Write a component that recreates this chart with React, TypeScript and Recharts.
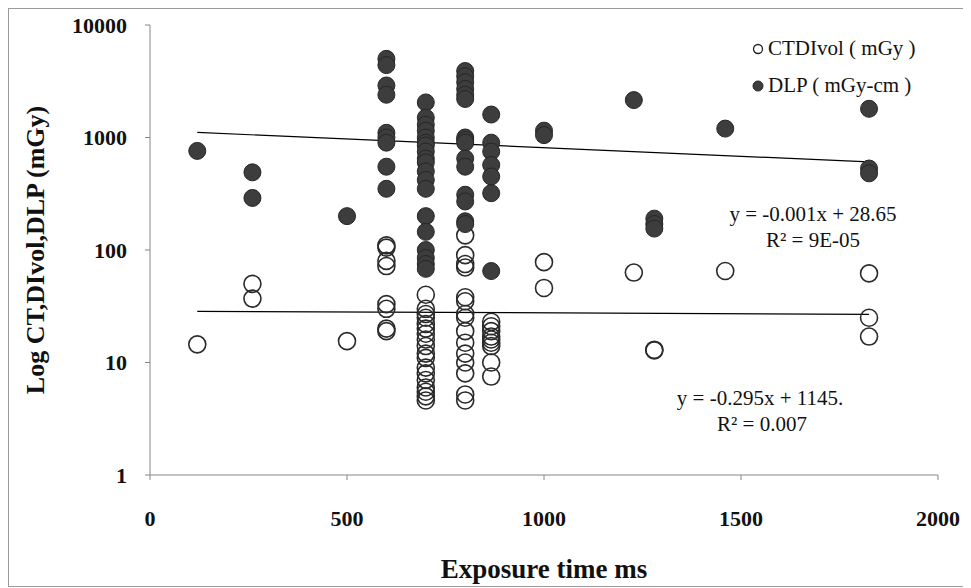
import { ScatterChart, Scatter, XAxis, YAxis, ReferenceLine } from 'recharts';

// exposure time (ms) -> DLP values (mGy-cm)
const DLP_POINTS: Array<[number, number[]]> = [
  [120, [760]],
  [260, [490, 290]],
  [500, [200]],
  [600, [5000, 4400, 2900, 2400, 1100, 1000, 900, 550, 350]],
  [700, [2050, 1500, 1300, 1150, 1000, 900, 850, 750, 650, 600, 500, 420, 350, 200, 145, 100, 85, 75, 68]],
  [800, [3900, 3500, 3100, 2700, 2400, 2200, 1000, 950, 900, 650, 550, 310, 270, 180, 170]],
  [866, [1600, 900, 750, 570, 450, 320, 65]],
  [1000, [1150, 1050]],
  [1228, [2150]],
  [1280, [190, 170, 155]],
  [1460, [1200]],
  [1825, [1800, 530, 480]],
];

// exposure time (ms) -> CTDIvol values (mGy)
const CTDI_POINTS: Array<[number, number[]]> = [
  [120, [14.5]],
  [260, [50, 37]],
  [500, [15.5]],
  [600, [110, 105, 80, 72, 33, 30, 20, 19]],
  [700, [40, 30, 27, 25, 22, 20, 18, 16, 14, 12, 11, 9, 8, 7, 6, 5.5, 5, 4.6]],
  [800, [135, 90, 75, 70, 38, 35, 27, 25, 19, 15, 12, 10, 8, 5.2, 4.6]],
  [866, [23, 21, 19, 17, 16, 15, 14, 10, 7.5]],
  [1000, [78, 46]],
  [1228, [63]],
  [1280, [13, 12.8]],
  [1460, [65]],
  [1825, [62, 25, 17]],
];

const X_TICKS = [0, 500, 1000, 1500, 2000];
const Y_TICKS = [1, 10, 100, 1000, 10000];

// trend lines: y = a*x + b, drawn over the data's time range
const TREND_RANGE = [120, 1825];
const DLP_TREND = { a: -0.295, b: 1145 };
const CTDI_TREND = { a: -0.001, b: 28.65 };

const flatten = (rows: Array<[number, number[]]>) =>
  rows.flatMap(([x, ys]) => ys.map((y) => ({ x, y })));

const dlpData = flatten(DLP_POINTS);
const ctdiData = flatten(CTDI_POINTS);

const trendSegment = (t: { a: number; b: number }) =>
  TREND_RANGE.map((x) => ({ x, y: t.a * x + t.b }));

const SERIF = '"Liberation Serif", "Times New Roman", serif';
const AXIS_GRAY = '#868686';

const FilledDot = (props: any) => (
  <circle cx={props.cx} cy={props.cy} r={8.5} fill="#3d3d3d" stroke="#262626" strokeWidth={1} />
);
const OpenDot = (props: any) => (
  <circle cx={props.cx} cy={props.cy} r={8.5} fill="none" stroke="#2a2a2a" strokeWidth={1.6} />
);

const tickStyle = { fill: '#111', fontSize: 22, fontWeight: 'bold', fontFamily: SERIF };
const noteStyle: React.CSSProperties = {
  position: 'absolute',
  fontFamily: SERIF,
  fontSize: 21,
  color: '#111',
  whiteSpace: 'nowrap',
  transform: 'translate(-50%, -50%)',
};

export default function App() {
  return (
    <div style={{ position: 'relative', width: 959, height: 577, border: '1px solid #9a9a9a', background: '#fff' }}>
      <ScatterChart width={959} height={577} margin={{ top: 16, right: 30, left: 0, bottom: 0 }}>
        <XAxis
          type="number"
          dataKey="x"
          domain={[0, 2000]}
          ticks={X_TICKS}
          height={111}
          stroke={AXIS_GRAY}
          tickSize={5}
          tickMargin={30}
          tick={tickStyle}
          label={{
            value: 'Exposure time ms',
            position: 'insideBottom',
            offset: 8,
            style: { fill: '#111', fontSize: 27, fontWeight: 'bold', fontFamily: SERIF },
          }}
        />
        <YAxis
          type="number"
          dataKey="y"
          scale="log"
          domain={[1, 10000]}
          ticks={Y_TICKS}
          allowDataOverflow
          width={141}
          stroke={AXIS_GRAY}
          tickSize={5}
          tickMargin={18}
          tick={tickStyle}
          label={{
            value: 'Log CT,DIvol,DLP (mGy)',
            angle: -90,
            position: 'insideLeft',
            offset: 26,
            textAnchor: 'middle',
            style: { fill: '#111', fontSize: 26, fontWeight: 'bold', fontFamily: SERIF, textAnchor: 'middle' },
          }}
        />
        <Scatter name="CTDIvol ( mGy )" data={ctdiData} shape={OpenDot} isAnimationActive={false} />
        <Scatter name="DLP ( mGy-cm )" data={dlpData} shape={FilledDot} isAnimationActive={false} />
        <ReferenceLine segment={trendSegment(DLP_TREND)} stroke="#000" strokeWidth={1.2} ifOverflow="visible" />
        <ReferenceLine segment={trendSegment(CTDI_TREND)} stroke="#000" strokeWidth={1.2} ifOverflow="visible" />
      </ScatterChart>

      <div style={{ position: 'absolute', left: 743, top: 21, fontFamily: SERIF, fontSize: 21, color: '#111' }}>
        <div style={{ display: 'flex', alignItems: 'center', height: 37 }}>
          <svg width={12} height={12} style={{ marginRight: 4 }}>
            <circle cx={6} cy={6} r={4.5} fill="#fff" stroke="#222" strokeWidth={1.3} />
          </svg>
          CTDIvol ( mGy )
        </div>
        <div style={{ display: 'flex', alignItems: 'center', height: 37 }}>
          <svg width={12} height={12} style={{ marginRight: 4 }}>
            <circle cx={6} cy={6} r={5} fill="#3d3d3d" stroke="#262626" />
          </svg>
          DLP ( mGy-cm )
        </div>
      </div>

      <div style={{ ...noteStyle, left: 804, top: 205 }}>y = -0.001x + 28.65</div>
      <div style={{ ...noteStyle, left: 804, top: 231 }}>R² = 9E-05</div>
      <div style={{ ...noteStyle, left: 751, top: 389 }}>y = -0.295x + 1145.</div>
      <div style={{ ...noteStyle, left: 753, top: 415 }}>R² = 0.007</div>
    </div>
  );
}
